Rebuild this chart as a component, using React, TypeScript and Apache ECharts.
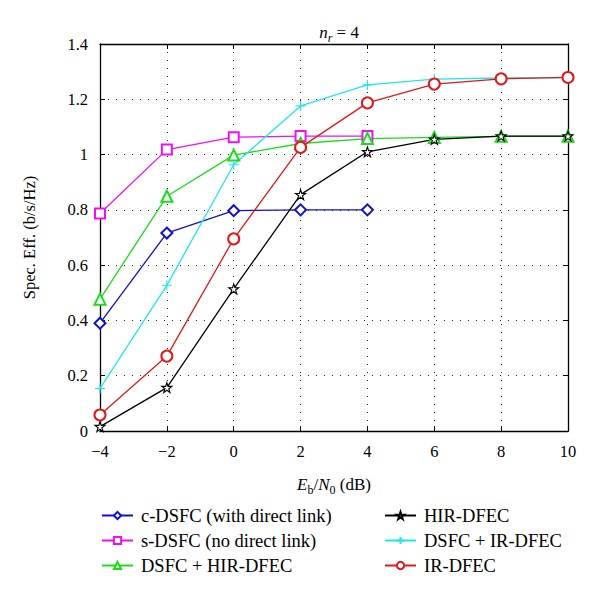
import React, { useEffect, useRef } from "react";
import * as echarts from "echarts";

const ebN0 = [-4, -2, 0, 2, 4, 6, 8, 10];
const cDSFC = [0.39, 0.716, 0.797, 0.8, 0.8];
const sDSFC = [0.787, 1.018, 1.063, 1.067, 1.067];
const dsfcHir = [0.477, 0.849, 0.998, 1.04, 1.058, 1.062, 1.066, 1.066];
const hirDfec = [0.016, 0.157, 0.514, 0.855, 1.01, 1.055, 1.067, 1.067];
const dsfcIr = [0.154, 0.527, 0.963, 1.176, 1.252, 1.273, 1.277, 1.278];
const irDfec = [0.058, 0.271, 0.695, 1.026, 1.187, 1.255, 1.274, 1.279];

const FONT = "Liberation Serif";
const STAR =
  "path://M50,0 L61.8,36.2 L100,36.2 L69.1,58.6 L80.9,95.1 L50,72.6 L19.1,95.1 L30.9,58.6 L0,36.2 L38.2,36.2 Z";
const PLUS = "path://M5,0 L5,10 M0,5 L10,5";

function pts(vals: number[]) {
  return vals.map((v, i) => [ebN0[i], v]);
}

function mk(name: string, vals: number[], color: string, symbol: string, size: number, fill?: string) {
  return {
    name,
    type: "line",
    data: pts(vals),
    symbol,
    symbolSize: size,
    showAllSymbol: true,
    lineStyle: { color, width: 1.3 },
    itemStyle: fill
      ? { color: fill, borderColor: color, borderWidth: 1.1 }
      : { color, borderWidth: 1.1 },
    emphasis: { disabled: true },
    z: 3,
  };
}

export default function App() {
  const ref = useRef<HTMLDivElement>(null);
  useEffect(() => {
    const chart = echarts.init(ref.current!, null, { renderer: "svg" });
    const axisCommon = {
      min: 0,
      max: 1.4,
      interval: 0.2,
    };
    const legendText = { fontFamily: FONT, fontSize: 18.5, color: "#000", padding: [0, 0, 0, 3] };
    chart.setOption({
      animation: false,
      backgroundColor: "#fff",
      textStyle: { fontFamily: FONT },
      title: {
        text: "{i|n}{s|r}{t| = 4}",
        left: 334,
        textAlign: "center",
        top: 15,
        textStyle: {
          fontWeight: "normal",
          rich: {
            i: { fontFamily: FONT, fontStyle: "italic", fontWeight: "normal", fontSize: 17, color: "#000", lineHeight: 20 },
            s: { fontFamily: FONT, fontStyle: "italic", fontWeight: "normal", fontSize: 12, color: "#000", verticalAlign: "bottom", lineHeight: 24 },
            t: { fontFamily: FONT, fontWeight: "normal", fontSize: 17, color: "#000", lineHeight: 20 },
          },
        },
      },
      grid: { left: 100, right: 32, top: 44, bottom: 164 },
      legend: [
        {
          left: 96,
          top: 501,
          orient: "vertical",
          itemWidth: 31,
          itemHeight: 9,
          itemGap: 6,
          data: ["c-DSFC (with direct link)", "s-DSFC (no direct link)", "DSFC + HIR-DFEC"],
          textStyle: legendText,
        },
        {
          left: 379,
          top: 501,
          orient: "vertical",
          itemWidth: 31,
          itemHeight: 9,
          itemGap: 6,
          data: ["HIR-DFEC", "DSFC + IR-DFEC", "IR-DFEC"],
          textStyle: legendText,
        },
      ],
      xAxis: [
        {
          type: "value",
          min: -4,
          max: 10,
          interval: 2,
          position: "bottom",
          name: "{i|E}{s|b}{t|/}{i|N}{s|0}{t| (dB)}",
          nameLocation: "middle",
          nameGap: 41,
          nameTextStyle: {
            rich: {
              i: { fontFamily: FONT, fontStyle: "italic", fontSize: 17, color: "#000", lineHeight: 20 },
              s: { fontFamily: FONT, fontSize: 12, color: "#000", verticalAlign: "bottom", lineHeight: 24 },
              t: { fontFamily: FONT, fontSize: 17, color: "#000", lineHeight: 20 },
            },
          },
          axisLine: { show: true, onZero: false, lineStyle: { color: "#000", width: 1.3 } },
          axisTick: { show: true, inside: true, length: 5, lineStyle: { color: "#000" } },
          axisLabel: {
            fontFamily: FONT,
            fontSize: 16.5,
            color: "#000",
            margin: 12,
            formatter: (v: number) => String(v).replace("-", "\u2212"),
          },
          splitLine: { show: true, lineStyle: { color: "#222", type: [1, 7], width: 1 } },
        },
        {
          type: "value",
          min: -4,
          max: 10,
          interval: 2,
          position: "top",
          axisLine: { show: true, onZero: false, lineStyle: { color: "#000", width: 1.3 } },
          axisTick: { show: true, inside: true, length: 5, lineStyle: { color: "#000" } },
          axisLabel: { show: false },
          splitLine: { show: false },
        },
      ],
      yAxis: [
        {
          type: "value",
          ...axisCommon,
          position: "left",
          name: "Spec. Eff. (b/s/Hz)",
          nameLocation: "middle",
          nameGap: 62,
          nameTextStyle: { fontFamily: FONT, fontSize: 16.5, color: "#000" },
          axisLine: { show: true, onZero: false, lineStyle: { color: "#000", width: 1.3 } },
          axisTick: { show: true, inside: true, length: 5, lineStyle: { color: "#000" } },
          axisLabel: { fontFamily: FONT, fontSize: 16.5, color: "#000", margin: 12 },
          splitLine: { show: true, lineStyle: { color: "#222", type: [1, 7], width: 1 } },
        },
        {
          type: "value",
          ...axisCommon,
          position: "right",
          axisLine: { show: true, onZero: false, lineStyle: { color: "#000", width: 1.3 } },
          axisTick: { show: true, inside: true, length: 5, lineStyle: { color: "#000" } },
          axisLabel: { show: false },
          splitLine: { show: false },
        },
      ],
      series: [
        mk("c-DSFC (with direct link)", cDSFC, "#1010c8", "emptyDiamond", 11),
        mk("s-DSFC (no direct link)", sDSFC, "#ee10ee", "emptyRect", 10),
        mk("DSFC + HIR-DFEC", dsfcHir, "#18dd18", "emptyTriangle", 11),
        mk("HIR-DFEC", hirDfec, "#000000", STAR, 10, "#fff"),
        mk("DSFC + IR-DFEC", dsfcIr, "#20e6ea", PLUS, 10, "none"),
        mk("IR-DFEC", irDfec, "#e01818", "emptyCircle", 11),
      ],
    });
    return () => chart.dispose();
  }, []);
  return <div ref={ref} style={{ width: 600, height: 595, position: "absolute", left: 0, top: 0 }} />;
}
